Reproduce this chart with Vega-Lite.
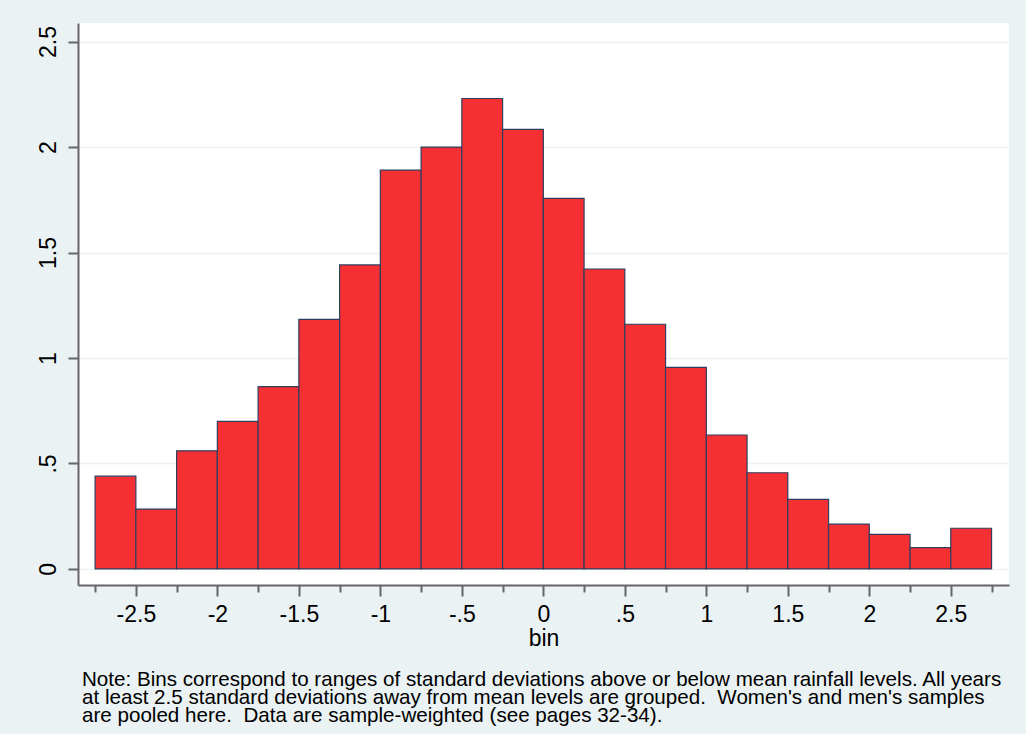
{
  "$schema": "https://vega.github.io/schema/vega-lite/v6.json",
  "width": 931,
  "height": 562,
  "autosize": {"type": "none"},
  "padding": {"left": 78, "top": 23, "right": 17, "bottom": 149},
  "background": "#eaf2f3",
  "config": {
    "view": {"stroke": null, "fill": "white"},
    "font": "Liberation Sans"
  },
  "title": {
    "text": [
      "Note: Bins correspond to ranges of standard deviations above or below mean rainfall levels. All years",
      "at least 2.5 standard deviations away from mean levels are grouped.\u00a0 Women's and men's samples",
      "are pooled here.\u00a0 Data are sample-weighted (see pages 32-34)."
    ],
    "orient": "bottom",
    "anchor": "start",
    "frame": "group",
    "dx": 4,
    "offset": 20,
    "font": "Liberation Sans",
    "fontSize": 20.6,
    "fontWeight": "normal",
    "color": "black",
    "lineHeight": 17.8
  },
  "data": {
    "values": [
      {"start": -2.75, "end": -2.5, "density": 0.44},
      {"start": -2.5, "end": -2.25, "density": 0.284},
      {"start": -2.25, "end": -2.0, "density": 0.56},
      {"start": -2.0, "end": -1.75, "density": 0.70},
      {"start": -1.75, "end": -1.5, "density": 0.864},
      {"start": -1.5, "end": -1.25, "density": 1.183},
      {"start": -1.25, "end": -1.0, "density": 1.441},
      {"start": -1.0, "end": -0.75, "density": 1.891},
      {"start": -0.75, "end": -0.5, "density": 2.0},
      {"start": -0.5, "end": -0.25, "density": 2.23},
      {"start": -0.25, "end": 0.0, "density": 2.084},
      {"start": 0.0, "end": 0.25, "density": 1.757},
      {"start": 0.25, "end": 0.5, "density": 1.422},
      {"start": 0.5, "end": 0.75, "density": 1.16},
      {"start": 0.75, "end": 1.0, "density": 0.956},
      {"start": 1.0, "end": 1.25, "density": 0.635},
      {"start": 1.25, "end": 1.5, "density": 0.456},
      {"start": 1.5, "end": 1.75, "density": 0.33},
      {"start": 1.75, "end": 2.0, "density": 0.213},
      {"start": 2.0, "end": 2.25, "density": 0.164},
      {"start": 2.25, "end": 2.5, "density": 0.101},
      {"start": 2.5, "end": 2.75, "density": 0.193}
    ]
  },
  "mark": {"type": "bar", "fill": "#f53033", "stroke": "#2f3f5f", "strokeWidth": 1.2, "binSpacing": 0},
  "encoding": {
    "x": {
      "field": "start",
      "type": "quantitative",
      "scale": {"domain": [-2.855, 2.857], "nice": false, "zero": false},
      "axis": {
        "title": "bin",
        "values": [-2.75, -2.5, -2.25, -2, -1.75, -1.5, -1.25, -1, -0.75, -0.5, -0.25, 0, 0.25, 0.5, 0.75, 1, 1.25, 1.5, 1.75, 2, 2.25, 2.5, 2.75],
        "labelExpr": "abs(datum.value % 0.5) < 0.01 ? replace(toString(datum.value), '0.', '.') : ''",
        "grid": false,
        "domainColor": "#666666",
        "domainWidth": 2,
        "tickColor": "#666666",
        "tickWidth": 2,
        "tickSize": {"condition": {"test": "abs(datum.value % 0.5) < 0.01", "value": 11}, "value": 7},
        "labelFontSize": 23,
        "labelColor": "black",
        "labelFont": "Liberation Sans",
        "labelPadding": 7,
        "labelFlush": false,
        "labelOverlap": false,
        "titleFontSize": 23,
        "titleFontWeight": "normal",
        "titleColor": "black",
        "titleFont": "Liberation Sans",
        "titlePadding": 1
      }
    },
    "x2": {"field": "end"},
    "y": {
      "field": "density",
      "type": "quantitative",
      "scale": {"domain": [-0.076, 2.588], "nice": false, "zero": false},
      "axis": {
        "title": null,
        "values": [0, 0.5, 1, 1.5, 2, 2.5],
        "labelExpr": "replace(toString(datum.value), '0.', '.')",
        "grid": true,
        "gridColor": "#eaf2f3",
        "gridWidth": 1.5,
        "domainColor": "#666666",
        "domainWidth": 2,
        "tickColor": "#666666",
        "tickWidth": 2,
        "tickSize": 10,
        "labelAngle": -90,
        "labelAlign": "center",
        "labelBaseline": "alphabetic",
        "labelPadding": 13,
        "labelFontSize": 23,
        "labelColor": "black",
        "labelFont": "Liberation Sans",
        "labelFlush": false,
        "labelOverlap": false
      }
    },
    "y2": {"datum": 0}
  }
}
